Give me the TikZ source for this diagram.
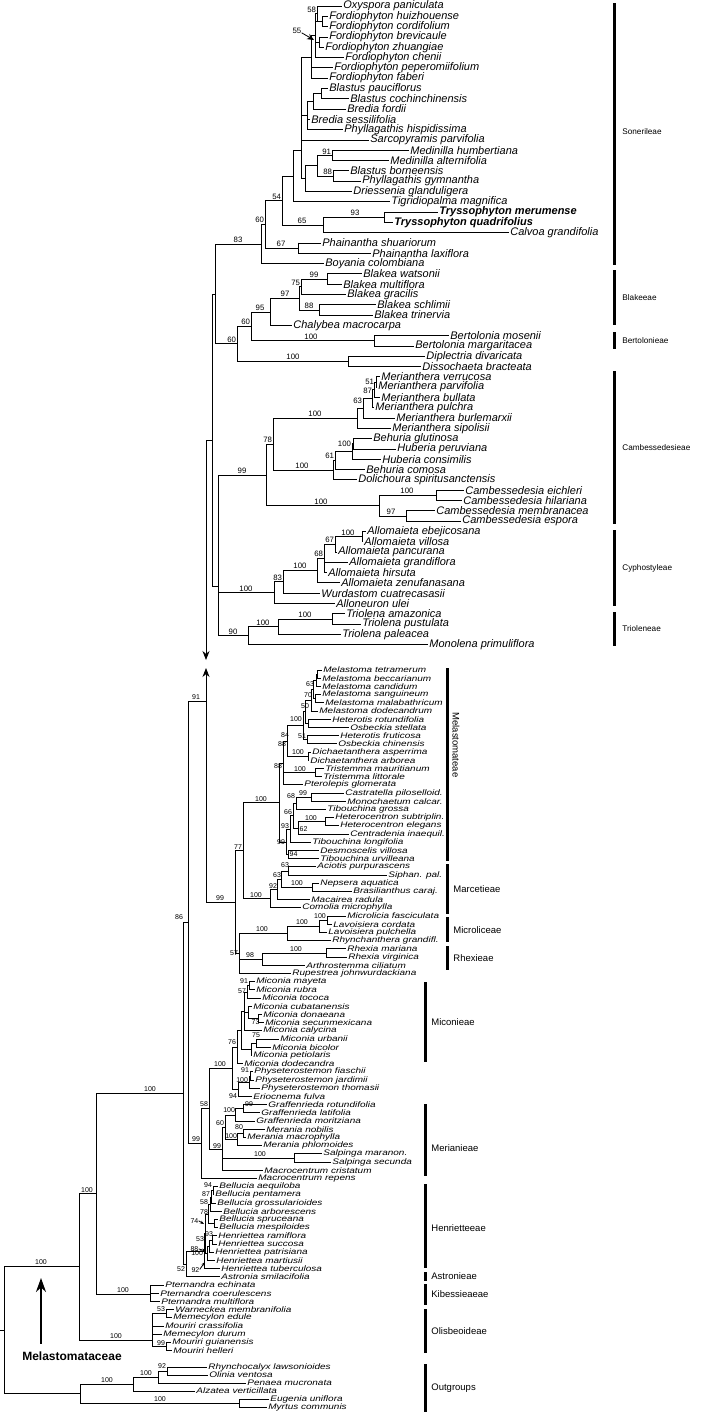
\documentclass[tikz,border=0pt]{standalone}
\usepackage{fontspec}
\setmainfont{Liberation Sans}
\usetikzlibrary{arrows.meta}
\newcommand\Lf[4]{\draw (#1,#2)--(#3-1.5,#2); \node[leaf] at (#3,#2) {#4};}
\newcommand\Ll[4]{\draw (#1,#2)--(#3-1.2,#2); \node[lleaf] at (#3,#2) {\scalebox{1}[0.8]{#4}};}
\newcommand\Hl[3]{\draw (#1,#3)--(#2,#3);}
\newcommand\Vl[3]{\draw (#1,#2)--(#1,#3);}
\newcommand\Bs[3]{\node[sup,anchor=south east] at (#1-0.3,#2-0.3) {#3};}
\newcommand\Bm[3]{\node[sup,anchor=south] at (#1,#2-0.3) {#3};}
\newcommand\Bar[3]{\draw[line width=3pt,line cap=butt] (#1,#2)--(#1,#3);}
\begin{document}
\begin{tikzpicture}[x=1pt,y=-1pt,line width=0.8pt,line cap=rect,
 leaf/.style={anchor=west,inner sep=0pt,font=\fontsize{11}{11}\selectfont\itshape},
 lleaf/.style={anchor=west,inner sep=0pt,font=\fontsize{10}{10}\selectfont\itshape},
 sup/.style={inner sep=0.3pt,font=\fontsize{7.8}{8}\selectfont},
 trb/.style={anchor=west,inner sep=0pt,font=\fontsize{8.2}{9}\selectfont}]
\useasboundingbox (0,0) rectangle (704,1414);
% ===== Sonerileae
\Vl{317}{6}{21.5}\Lf{317}{6}{343}{Oxyspora paniculata}
\Vl{322}{16.3}{26.6}\Lf{322}{16.3}{329}{Fordiophyton huizhouense}\Lf{322}{26.6}{329}{Fordiophyton cordifolium}
\Hl{315}{322}{21.5}\Hl{315}{317}{13.7}\Bs{317}{13.7}{58}
\Vl{319}{36.9}{47.2}\Lf{319}{36.9}{329}{Fordiophyton brevicaule}\Lf{319}{47.2}{325}{Fordiophyton zhuangiae}
\Hl{315}{319}{42}
\Vl{315}{13.7}{57.5}\Lf{315}{57.5}{345}{Fordiophyton chenii}
\draw[-{Stealth[length=7pt,width=6pt]}] (302,33)--(314,40);
\node[sup,anchor=east] at (302,31) {55};
\Vl{311}{35.6}{78.1}\Hl{311}{315}{35.6}
\Lf{311}{67.8}{334}{Fordiophyton peperomiifolium}\Lf{311}{78.1}{329}{Fordiophyton faberi}
\Vl{321}{88.4}{98.7}\Lf{321}{88.4}{329}{Blastus pauciflorus}\Lf{321}{98.7}{350}{Blastus cochinchinensis}
\Vl{313}{93.5}{109}\Hl{313}{321}{93.5}\Lf{313}{109}{347}{Bredia fordii}
\Vl{307}{101}{129.6}\Hl{307}{313}{101}\Lf{307}{119.3}{311}{Bredia sessilifolia}\Lf{307}{129.6}{344}{Phyllagathis hispidissima}
\Vl{301}{57}{178.5}\Hl{301}{311}{57}\Hl{301}{307}{115}\Lf{301}{139.9}{370}{Sarcopyramis parvifolia}
\Vl{332}{150.2}{160.5}\Lf{332}{150.2}{410}{Medinilla humbertiana}\Lf{332}{160.5}{390}{Medinilla alternifolia}
\Vl{333}{170.8}{181.1}\Lf{333}{170.8}{350}{Blastus borneensis}\Lf{333}{181.1}{362}{Phyllagathis gymnantha}
\Vl{317}{155.4}{176}\Hl{317}{332}{155.4}\Hl{317}{333}{176}\Bs{332}{155.4}{91}\Bs{333}{176}{88}
\Vl{305}{165.7}{191.4}\Hl{305}{317}{165.7}\Lf{305}{191.4}{353}{Driessenia glanduligera}
\Hl{301}{305}{178.5}
\Vl{293}{150}{201.7}\Hl{293}{301}{150}\Lf{293}{201.7}{391}{Tigridiopalma magnifica}
\Vl{384}{212}{222.3}\Lf{384}{212}{439}{\bfseries Tryssophyton merumense}\Lf{384}{222.3}{394}{\bfseries Tryssophyton quadrifolius}
\Vl{323}{217}{232.6}\Hl{323}{384}{217}\Bm{355}{217}{93}\Lf{323}{232.6}{510}{Calvoa grandifolia}
\Vl{282}{176}{225}\Hl{282}{293}{176}\Hl{282}{323}{225}\Bm{302}{225}{65}
\Vl{298}{242.9}{253.2}\Lf{298}{242.9}{322}{Phainantha shuariorum}\Lf{298}{253.2}{372}{Phainantha laxiflora}
\Vl{265}{200.5}{248}\Hl{265}{282}{200.5}\Bs{282}{200.5}{54}\Hl{265}{298}{248}\Bm{281}{248}{67}
\Vl{261}{224}{263.5}\Hl{261}{265}{224}\Bs{265}{224}{60}\Lf{261}{263.5}{325}{Boyania colombiana}
% Blakeeae
\Vl{327}{273.8}{284.1}\Lf{327}{273.8}{363}{Blakea watsonii}\Lf{327}{284.1}{343}{Blakea multiflora}
\Vl{301}{279}{294.4}\Hl{301}{327}{279}\Bm{314}{279}{99}\Lf{301}{294.4}{347}{Blakea gracilis}
\Vl{319}{304.7}{315}\Lf{319}{304.7}{377}{Blakea schlimii}\Lf{319}{315}{374}{Blakea trinervia}
\Vl{299}{286.7}{310}\Hl{299}{301}{286.7}\Bs{301}{286.7}{75}\Hl{299}{319}{310}\Bm{309}{310}{88}
\Vl{270}{298}{325.3}\Hl{270}{299}{298}\Bm{285}{298}{97}\Lf{270}{325.3}{293}{Chalybea macrocarpa}
\Vl{374}{335.6}{345.9}\Lf{374}{335.6}{450}{Bertolonia mosenii}\Lf{374}{345.9}{415}{Bertolonia margaritacea}
\Vl{251}{312}{340.7}\Hl{251}{270}{312}\Bm{260}{312}{95}\Hl{251}{374}{340.7}\Bm{311}{340.7}{100}
\Vl{348}{356.2}{366.5}\Lf{348}{356.2}{426}{Diplectria divaricata}\Lf{348}{366.5}{422}{Dissochaeta bracteata}
\Vl{237}{326}{361}\Hl{237}{251}{326}\Bs{251}{326}{60}\Hl{237}{348}{361}\Bm{293}{361}{100}
\Vl{215}{244}{343.5}\Hl{215}{261}{244}\Bm{238}{244}{83}\Hl{215}{237}{343.5}\Bs{237}{343.5}{60}
% Cambessedesieae
\Vl{376}{376.8}{387.1}\Lf{376}{376.8}{381}{Merianthera verrucosa}\Lf{376}{387.1}{378}{Merianthera parvifolia}
\Vl{374}{382}{397.4}\Hl{374}{376}{382}\Bs{375}{386}{51}\Lf{374}{397.4}{381}{Merianthera bullata}
\Vl{372}{389.7}{407.7}\Hl{372}{374}{389.7}\Bs{373}{395}{87}\Lf{372}{407.7}{375}{Merianthera pulchra}
\Vl{363}{398.7}{418}\Hl{363}{372}{398.7}\Bs{363}{405}{63}\Lf{363}{418}{396}{Merianthera burlemarxii}
\Vl{357}{408}{428.3}\Hl{357}{363}{408}\Lf{357}{428.3}{392}{Merianthera sipolisii}
\Vl{353}{438.6}{448.9}\Lf{353}{438.6}{373}{Behuria glutinosa}\Lf{353}{448.9}{397}{Huberia peruviana}
\Vl{352}{443.7}{459.2}\Hl{352}{353}{443.7}\Bs{352}{448}{100}\Lf{352}{459.2}{382}{Huberia consimilis}
\Vl{335}{451.5}{469.5}\Hl{335}{352}{451.5}\Bs{335}{460}{61}\Lf{335}{469.5}{366}{Behuria comosa}
\Vl{333}{460.5}{479.8}\Hl{333}{335}{460.5}\Lf{333}{479.8}{358}{Dolichoura spiritusanctensis}
\Vl{273}{418}{470}\Hl{273}{357}{418}\Bm{315}{418}{100}\Hl{273}{333}{470}\Bm{302}{470}{100}
\Vl{436}{490.1}{500.4}\Lf{436}{490.1}{465}{Cambessedesia eichleri}\Lf{436}{500.4}{463}{Cambessedesia hilariana}
\Vl{406}{510.7}{521}\Lf{406}{510.7}{436}{Cambessedesia membranacea}\Lf{406}{521}{462}{Cambessedesia espora}
\Vl{379}{495}{516}\Hl{379}{436}{495}\Bm{407}{495}{100}\Hl{379}{406}{516}\Bm{391}{516}{97}
\Vl{266}{444}{505.5}\Hl{266}{273}{444}\Bs{273}{444}{78}\Hl{266}{379}{505.5}\Bm{321}{505.5}{100}
% Cyphostyleae
\Vl{362}{531.3}{541.6}\Lf{362}{531.3}{367}{Allomaieta ebejicosana}\Lf{362}{541.6}{364}{Allomaieta villosa}
\Vl{335}{536.5}{551.9}\Hl{335}{362}{536.5}\Bm{348}{536.5}{100}\Lf{335}{551.9}{338}{Allomaieta pancurana}
\Vl{324}{544}{572.5}\Hl{324}{335}{544}\Bs{335}{544}{67}\Lf{324}{562.2}{349}{Allomaieta grandiflora}\Lf{324}{572.5}{328}{Allomaieta hirsuta}
\Vl{317}{558}{582.8}\Hl{317}{324}{558}\Bs{324}{558}{68}\Lf{317}{582.8}{341}{Allomaieta zenufanasana}
\Vl{283}{570}{593.1}\Hl{283}{317}{570}\Bm{300}{570}{100}\Lf{283}{593.1}{321}{Wurdastom cuatrecasasii}
\Vl{274}{581.5}{603.4}\Hl{274}{283}{581.5}\Bs{283}{581.5}{83}\Lf{274}{603.4}{336}{Alloneuron ulei}
% Trioleneae
\Vl{332}{613.7}{624}\Lf{332}{613.7}{346}{Triolena amazonica}\Lf{332}{624}{362}{Triolena pustulata}
\Vl{278}{619}{634.3}\Hl{278}{332}{619}\Bm{305}{619}{100}\Lf{278}{634.3}{342}{Triolena paleacea}
\Vl{248}{626.7}{644.6}\Hl{248}{278}{626.7}\Bm{263}{626.7}{100}\Lf{248}{644.6}{429}{Monolena primuliflora}
\Vl{218}{475}{635.6}\Hl{218}{266}{475}\Bm{242}{475}{99}\Hl{218}{274}{592.5}\Bm{246}{592.5}{100}\Hl{218}{248}{635.6}\Bm{233}{635.6}{90}
\Vl{212}{294}{586}\Hl{212}{215}{294}\Hl{212}{218}{586}\Hl{206}{212}{440}
\draw[-{Stealth[length=9pt,width=7pt]}] (206,440)--(206,660);
% tribe bars top
\Bar{614}{3}{265}\node[trb] at (622,132) {Sonerileae};
\Bar{614}{270}{325}\node[trb] at (622,298) {Blakeeae};
\Bar{614}{332}{349}\node[trb] at (622,341) {Bertolonieae};
\Bar{614}{371}{524}\node[trb] at (622,448) {Cambessedesieae};
\Bar{614}{530}{606}\node[trb] at (622,568) {Cyphostyleae};
\Bar{614}{612}{646}\node[trb] at (622,629) {Trioleneae};
% ===== lower section
\begin{scope}[sup/.style={inner sep=0.3pt,font=\fontsize{7}{7}\selectfont}]
\Vl{317}{670}{678.2}\Ll{317}{670}{323}{Melastoma tetramerum}\Ll{317}{678.2}{322}{Melastoma beccarianum}
\Vl{316}{674}{686.4}\Hl{316}{317}{674}\Ll{316}{686.4}{322}{Melastoma candidum}\Bs{315}{688}{63}
\Vl{315}{694.6}{702.8}\Ll{315}{694.6}{322}{Melastoma sanguineum}\Ll{315}{702.8}{325}{Melastoma malabathricum}
\Vl{313}{680}{698.7}\Hl{313}{316}{680}\Hl{313}{315}{698.7}\Bs{313}{699}{70}
\Vl{311}{689}{711}\Hl{311}{313}{689}\Ll{311}{711}{319}{Melastoma dodecandrum}\Bs{310}{710}{50}
\Vl{308}{719.2}{727.4}\Ll{308}{719.2}{332}{Heterotis rotundifolia}\Ll{308}{727.4}{350}{Osbeckia stellata}
\Vl{305}{700}{723}\Hl{305}{311}{700}\Hl{305}{308}{723}\Bm{296}{723}{100}
\Vl{307}{735.6}{743.8}\Ll{307}{735.6}{340}{Heterotis fruticosa}\Ll{307}{743.8}{338}{Osbeckia chinensis}\Bs{307}{740}{51}
\Vl{303}{711.5}{739.7}\Hl{303}{305}{711.5}\Hl{303}{307}{739.7}\Bs{290}{739}{84}
\Vl{308}{752}{760.2}\Ll{308}{752}{312}{Dichaetanthera asperrima}\Ll{308}{760.2}{310}{Dichaetanthera arborea}\Bm{298}{756}{100}
\Vl{287}{725.6}{756}\Hl{287}{303}{725.6}\Hl{287}{308}{756}\Bs{287}{748}{88}
\Vl{315}{768.4}{776.6}\Ll{315}{768.4}{325}{Tristemma mauritianum}\Ll{315}{776.6}{323}{Tristemma littorale}\Bm{300}{772.5}{100}
\Vl{283}{741}{784.8}\Hl{283}{287}{741}\Hl{283}{315}{772.5}\Ll{283}{784.8}{304}{Pterolepis glomerata}\Bs{283}{770}{88}
\Vl{311}{793}{801.2}\Ll{311}{793}{345}{Castratella piloselloid.}\Ll{311}{801.2}{347}{Monochaetum calcar.}\Bm{303}{797}{99}
\Vl{296}{797}{809.4}\Hl{296}{311}{797}\Ll{296}{809.4}{327}{Tibouchina grossa}\Bs{296}{800}{68}
\Vl{325}{817.6}{825.8}\Ll{325}{817.6}{335}{Heterocentron subtriplin.}\Ll{325}{825.8}{340}{Heterocentron elegans}
\Vl{298}{821.7}{834}\Hl{298}{325}{821.7}\Bm{311}{821.7}{100}\Ll{298}{834}{350}{Centradenia inaequil.}\node[sup,anchor=west] at (299,829) {62};
\Vl{293}{803}{828}\Hl{293}{296}{803}\Hl{293}{298}{828}\Bs{293}{816}{66}
\Vl{290}{815.5}{842.2}\Hl{290}{293}{815.5}\Ll{290}{842.2}{312}{Tibouchina longifolia}\Bs{290}{830}{93}
\Vl{288}{850.4}{858.6}\Ll{288}{850.4}{320}{Desmoscelis villosa}\Ll{288}{858.6}{320}{Tibouchina urvilleana}\node[sup,anchor=west] at (289,854.5) {94};
\Vl{286}{829}{854.5}\Hl{286}{290}{829}\Hl{286}{288}{854.5}\Bs{286}{846}{99}
\Vl{279}{763}{842}\Hl{279}{283}{763}\Hl{279}{286}{842}
% Marcetieae
\Vl{288}{866.8}{875}\Ll{288}{866.8}{317}{Aciotis purpurascens}\Ll{288}{875}{388}{Siphan. pal.}\Bs{290}{869}{63}
\Vl{312}{883.2}{891.4}\Ll{312}{883.2}{320}{Nepsera aquatica}\Ll{312}{891.4}{353}{Brasilianthus caraj.}
\Vl{281}{871}{887}\Hl{281}{288}{871}\Hl{281}{312}{887}\Bm{297}{887}{100}\Bs{282}{879}{63}
\Vl{277}{879}{899.6}\Hl{277}{281}{879}\Ll{277}{899.6}{311}{Macairea radula}\Bs{278}{890}{92}
\Vl{270}{889}{907.8}\Hl{270}{277}{889}\Ll{270}{907.8}{302}{Comolia microphylla}
\Vl{243}{802.5}{898.4}\Hl{243}{279}{802.5}\Bm{261}{802.5}{100}\Hl{243}{270}{898.4}\Bm{256}{898.4}{100}
% Microliceae, Rhexieae
\Vl{327}{916}{924.2}\Ll{327}{916}{347}{Microlicia fasciculata}\Ll{327}{924.2}{333}{Lavoisiera cordata}\Bm{320}{920}{100}
\Vl{319}{920}{932.4}\Hl{319}{327}{920}\Ll{319}{932.4}{328}{Lavoisiera pulchella}\Bm{302}{926}{100}
\Vl{287}{926}{940.6}\Hl{287}{319}{926}\Ll{287}{940.6}{332}{Rhynchanthera grandifl.}
\Vl{326}{948.8}{957}\Ll{326}{948.8}{347}{Rhexia mariana}\Ll{326}{957}{348}{Rhexia virginica}
\Vl{262}{953}{965.2}\Hl{262}{326}{953}\Bm{296}{953}{100}\Ll{262}{965.2}{306}{Arthrostemma ciliatum}
\Vl{239}{933}{973.4}\Hl{239}{287}{933}\Bm{262}{933}{100}\Hl{239}{262}{959}\Bm{250}{959}{98}\Ll{239}{973.4}{292}{Rupestrea johnwurdackiana}
\Vl{235}{850.5}{953}\Hl{235}{243}{850.5}\Bs{243}{850.5}{77}\Hl{235}{239}{953}\Bs{239}{957}{57}
\draw (206,902)--(235,902);\Bm{220}{902}{99}
\draw[-{Stealth[length=9pt,width=7pt]}] (206,902)--(206,668);
% Miconieae
\Vl{249}{981.6}{989.8}\Ll{249}{981.6}{256}{Miconia mayeta}\Ll{249}{989.8}{256}{Miconia rubra}\Bs{249}{985}{91}
\Vl{247}{985.7}{998}\Hl{247}{249}{985.7}\Ll{247}{998}{262}{Miconia tococa}\Bs{247}{995}{57}
\Vl{258}{1014.4}{1022.6}\Ll{258}{1014.4}{263}{Miconia donaeana}\Ll{258}{1022.6}{265}{Miconia secunmexicana}\node[sup,anchor=north west] at (251,1019) {73};
\Vl{248}{1006.2}{1018.5}\Ll{248}{1006.2}{253}{Miconia cubatanensis}\Hl{248}{258}{1018.5}
\Vl{244}{992}{1030.8}\Hl{244}{247}{992}\Hl{244}{248}{1012}\Ll{244}{1030.8}{263}{Miconia calycina}
\Vl{256}{1039}{1047.2}\Ll{256}{1039}{280}{Miconia urbanii}\Ll{256}{1047.2}{272}{Miconia bicolor}\Bm{256}{1039}{75}
\Vl{251}{1043}{1055.4}\Hl{251}{256}{1043}\Ll{251}{1055.4}{253}{Miconia petiolaris}
\Vl{241}{1011}{1049}\Hl{241}{244}{1011}\Hl{241}{251}{1049}
\Vl{237}{1030}{1063.6}\Hl{237}{241}{1030}\Ll{237}{1063.6}{244}{Miconia dodecandra}\Bs{237}{1046}{76}
\Vl{250}{1071.8}{1080}\Ll{250}{1071.8}{254}{Physeterostemon fiaschii}\Ll{250}{1080}{255}{Physeterostemon jardimii}\Bs{250}{1074}{91}
\Vl{249}{1076}{1088.2}\Hl{249}{250}{1076}\Ll{249}{1088.2}{261}{Physeterostemon thomasii}\Bs{249}{1084}{100}
\Vl{238}{1082}{1096.4}\Hl{238}{249}{1082}\Ll{238}{1096.4}{253}{Eriocnema fulva}\Bs{238}{1100}{94}
\Vl{232}{1047}{1089}\Hl{232}{237}{1047}\Hl{232}{238}{1089}
% Merianieae
\Vl{243}{1104.6}{1112.8}\Ll{243}{1104.6}{268}{Graffenrieda rotundifolia}\Ll{243}{1112.8}{261}{Graffenrieda latifolia}\Bm{249}{1108}{99}
\Vl{235}{1108.7}{1121}\Hl{235}{243}{1108.7}\Ll{235}{1121}{256}{Graffenrieda moritziana}\Bs{236}{1114}{100}
\Vl{243}{1129.2}{1137.4}\Ll{243}{1129.2}{266}{Merania nobilis}\Ll{243}{1137.4}{247}{Merania macrophylla}\Bs{244}{1131}{80}
\Vl{237}{1133}{1145.6}\Hl{237}{243}{1133}\Ll{237}{1145.6}{263}{Merania phlomoides}\Bs{238}{1140}{100}
\Vl{225}{1115}{1139}\Hl{225}{235}{1115}\Hl{225}{237}{1139}\Bs{225}{1127}{60}
\Vl{294}{1153.8}{1162}\Ll{294}{1153.8}{323}{Salpinga maranon.}\Ll{294}{1162}{332}{Salpinga secunda}
\Vl{222}{1127}{1170.2}\Hl{222}{225}{1127}\Hl{222}{294}{1158}\Bm{260}{1158}{100}\Ll{222}{1170.2}{264}{Macrocentrum cristatum}\Bs{222}{1150}{99}
\Vl{209}{1068}{1149}\Hl{209}{232}{1068}\Bm{220}{1068}{100}\Hl{209}{222}{1149}\Bs{209}{1108}{58}
\Vl{201}{1108.5}{1178.4}\Hl{201}{209}{1108.5}\Ll{201}{1178.4}{258}{Macrocentrum repens}\Bs{201}{1143}{99}
\Vl{188}{701}{1143.5}\Hl{188}{206}{701}\Bm{196}{701}{91}\Hl{188}{201}{1143.5}
% Henrietteeae
\Vl{213}{1186.6}{1194.8}\Ll{213}{1186.6}{219}{Bellucia aequiloba}\Ll{213}{1194.8}{215}{Bellucia pentamera}\Bs{213}{1189}{94}
\Vl{211}{1190.7}{1203}\Hl{211}{213}{1190.7}\Ll{211}{1203}{217}{Bellucia grossularioides}\Bs{211}{1198}{87}
\Vl{210}{1197}{1211.2}\Hl{210}{211}{1197}\Ll{210}{1211.2}{223}{Bellucia arborescens}\Bs{209}{1206}{58}
\Vl{214}{1219.4}{1227.6}\Ll{214}{1219.4}{219}{Bellucia spruceana}\Ll{214}{1227.6}{219}{Bellucia mespiloides}
\Vl{208}{1204}{1223.5}\Hl{208}{210}{1204}\Hl{208}{214}{1223.5}\Bs{209}{1216}{78}
\Vl{212}{1235.8}{1244}\Ll{212}{1235.8}{218}{Henriettea ramiflora}\Ll{212}{1244}{218}{Henriettea succosa}\Bs{214}{1238}{93}
\Vl{209}{1240}{1252.2}\Hl{209}{212}{1240}\Ll{209}{1252.2}{215}{Henriettea patrisiana}\Bs{205}{1243}{53}
\Vl{207}{1246}{1260.4}\Hl{207}{209}{1246}\Ll{207}{1260.4}{216}{Henriettea martiusii}
\Vl{205}{1214}{1253}\Hl{205}{208}{1214}\Hl{205}{207}{1253}
\Vl{204}{1233.5}{1268.6}\Hl{204}{205}{1233.5}\Ll{204}{1268.6}{221}{Henriettea tuberculosa}\Bs{204}{1257}{100}
\draw[-{Stealth[length=4pt,width=3pt]}] (199,1221)--(204,1224);\node[sup,anchor=east] at (199,1221) {74};
\draw[-{Stealth[length=4pt,width=3pt]}] (199,1249)--(206,1251);\node[sup,anchor=east] at (199,1249) {88};
\draw[-{Stealth[length=4pt,width=3pt]}] (200,1269)--(205,1262);\node[sup,anchor=east] at (200,1270) {92};
\Vl{186}{1251}{1276.8}\Hl{186}{204}{1251}\Ll{186}{1276.8}{221}{Astronia smilacifolia}\Bs{186}{1273}{52}
\Vl{183}{922}{1264}\Hl{183}{188}{922}\Hl{183}{186}{1264}\Bs{184}{921}{86}
% Kibessieae, Olisbeoideae
\Vl{150}{1285}{1301.4}\Ll{150}{1285}{165}{Pternandra echinata}\Ll{150}{1293.2}{160}{Pternandra coerulescens}\Ll{150}{1301.4}{161}{Pternandra multiflora}
\Vl{96}{1093}{1294}\Hl{96}{183}{1093}\Bm{150}{1093}{100}\Hl{96}{150}{1294}\Bm{123}{1294}{100}
\Vl{166}{1309.6}{1317.8}\Ll{166}{1309.6}{175}{Warneckea membranifolia}\Ll{166}{1317.8}{173}{Memecylon edule}\Bs{166}{1313}{53}
\Vl{166}{1342.4}{1350.6}\Ll{166}{1342.4}{172}{Mouriri guianensis}\Ll{166}{1350.6}{173}{Mouriri helleri}\Bs{166}{1347}{99}
\Vl{152}{1313.7}{1346.5}\Hl{152}{166}{1313.7}\Hl{152}{166}{1346.5}\Ll{152}{1326}{165}{Mouriri crassifolia}\Ll{152}{1334.2}{163}{Memecylon durum}
\Vl{79}{1193.5}{1340}\Hl{79}{96}{1193.5}\Bm{87}{1193.5}{100}\Hl{79}{152}{1340}\Bm{116}{1340}{100}
% outgroups
\Vl{167}{1367}{1375}\Ll{167}{1367}{208}{Rhynchocalyx lawsonioides}\Ll{167}{1375}{209}{Olinia ventosa}\Bs{167}{1370}{92}
\Vl{158}{1371}{1383}\Hl{158}{167}{1371}\Ll{158}{1383}{247}{Penaea mucronata}\Bm{146}{1377}{100}
\Vl{133}{1377}{1391}\Hl{133}{158}{1377}\Ll{133}{1391}{196}{Alzatea verticillata}
\Vl{239}{1399}{1407}\Ll{239}{1399}{270}{Eugenia uniflora}\Ll{239}{1407}{268}{Myrtus communis}
\Vl{80}{1384}{1403}\Hl{80}{133}{1384}\Bm{107}{1384}{100}\Hl{80}{239}{1403}\Bm{160}{1403}{100}
\Vl{4}{1266}{1393.5}\Hl{4}{79}{1266}\Bm{41}{1266}{100}\Hl{4}{80}{1393.5}\Hl{0}{4}{1330}
\end{scope}
\draw[line width=2pt,-{Stealth[length=14pt,width=10pt]}] (41,1343)--(41,1278);
\node[font=\fontsize{12}{12}\selectfont\bfseries] at (72,1356) {Melastomataceae};
% lower bars
\begin{scope}[trb/.style={anchor=west,inner sep=0pt,font=\fontsize{9.5}{9}\selectfont}]
\Bar{447}{668}{861}\node[font=\fontsize{9.5}{9}\selectfont,rotate=-90] at (456,745) {Melastomateae};
\Bar{447}{864}{914}\node[trb] at (453,889) {Marcetieae};
\Bar{447}{917}{942}\node[trb] at (453,930) {Microliceae};
\Bar{447}{946}{970}\node[trb] at (453,958) {Rhexieae};
\Bar{425}{982}{1062}\node[trb] at (431,1022) {Miconieae};
\Bar{425}{1104}{1176}\node[trb] at (431,1148) {Merianieae};
\Bar{425}{1184}{1268}\node[trb] at (431,1228) {Henrietteeae};
\Bar{425}{1272}{1281}\node[trb] at (431,1276) {Astronieae};
\Bar{425}{1284}{1305}\node[trb] at (431,1294) {Kibessieaeae};
\Bar{425}{1309}{1353}\node[trb] at (431,1331) {Olisbeoideae};
\Bar{425}{1364}{1412}\node[trb] at (431,1388) {Outgroups};
\end{scope}
\end{tikzpicture}
\end{document}
